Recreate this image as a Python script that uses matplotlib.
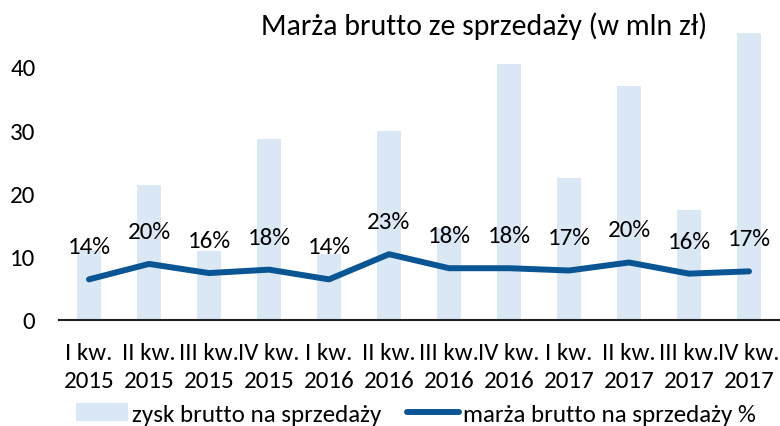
import matplotlib.pyplot as plt
import numpy as np

quarters = ["I kw.\n2015", "II kw.\n2015", "III kw.\n2015", "IV kw.\n2015",
            "I kw.\n2016", "II kw.\n2016", "III kw.\n2016", "IV kw.\n2016",
            "I kw.\n2017", "II kw.\n2017", "III kw.\n2017", "IV kw.\n2017"]
zysk = [11.0, 21.4, 10.9, 28.6, 10.5, 29.9, 14.6, 40.4, 22.5, 36.9, 17.4, 45.3]
marza = [14.2, 19.6, 16.4, 17.6, 14.2, 23.0, 18.1, 18.1, 17.3, 20.1, 16.2, 17.0]

plt.rcParams['font.family'] = ['Carlito', 'DejaVu Sans']
FS = 18

bar_col = "#DAE7F5"
line_col = "#0A5694"

fig = plt.figure(figsize=(7.8, 4.27), dpi=100)
ax = fig.add_axes([59/780, 1 - 321/427, 720/780, (321 - 33.6)/427])
x = np.arange(len(quarters))
bars = ax.bar(x, zysk, width=0.4, color=bar_col, label="zysk brutto na sprzedaży", zorder=1)
ax.set_xlim(-0.5, len(quarters) - 0.5)
ax.set_ylim(0, 45.4)
ax.set_yticks([0, 10, 20, 30, 40])
ax.set_xticks(x)
ax.set_xticklabels(quarters, linespacing=1.45)
ax.tick_params(axis='both', length=0, labelsize=FS)
ax.tick_params(axis='y', pad=17)
ax.tick_params(axis='x', pad=15.5)
for s in ["top", "right", "left"]:
    ax.spines[s].set_visible(False)
ax.spines["bottom"].set_color("#222222")
ax.spines["bottom"].set_linewidth(1.5)

ax2 = ax.twinx()
ax2.set_ylim(0, 45.4 / 0.452)
ax2.axis("off")
ln, = ax2.plot(x, marza, color=line_col, lw=4.3, solid_capstyle='round',
               label="marża brutto na sprzedaży %", zorder=3)
for xi, m in zip(x, marza):
    ax2.annotate(f"{m:.0f}%", (xi, m), xytext=(0, 23.5), textcoords="offset points",
                 ha="center", va="center", fontsize=FS)

fig.text(484/780, 1 - 35/427, "Marża brutto ze sprzedaży (w mln zł)", ha="center",
         va="baseline", fontsize=21.5)

handles = [bars, ln]
fig.legend(handles, [h.get_label() for h in handles], loc="center",
           bbox_to_anchor=(416/780, 1 - 415/427), ncol=2, frameon=False, fontsize=FS,
           handlelength=2.1, handletextpad=0.16, columnspacing=1.0)

fig.savefig("out.png", dpi=100)
